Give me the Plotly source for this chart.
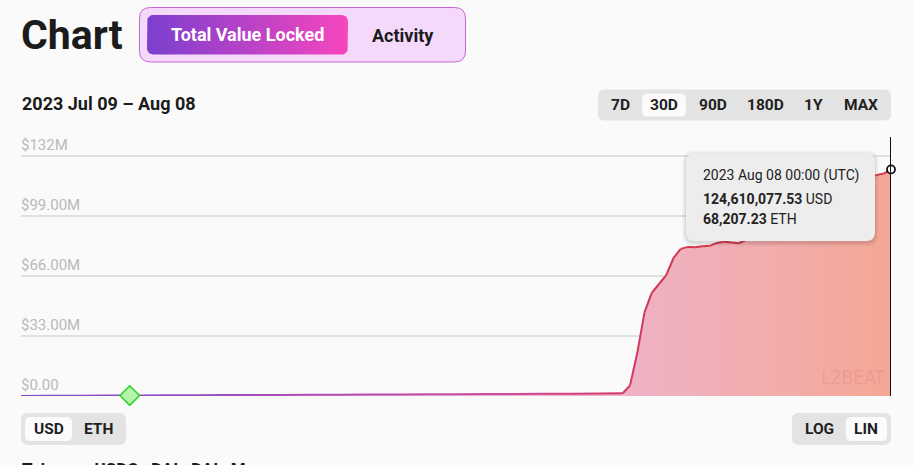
import math
import pandas as pd
import plotly.graph_objects as go

# ---------------- data ----------------
dates = [
    "2023-07-09 00:00", "2023-07-10 00:00", "2023-07-11 00:00", "2023-07-12 00:00", "2023-07-13 00:00", "2023-07-14 00:00",
    "2023-07-15 00:00", "2023-07-16 00:00", "2023-07-17 00:00", "2023-07-18 00:00", "2023-07-19 00:00", "2023-07-20 00:00",
    "2023-07-21 00:00", "2023-07-22 00:00", "2023-07-23 00:00", "2023-07-24 00:00", "2023-07-25 00:00", "2023-07-26 00:00",
    "2023-07-27 00:00", "2023-07-28 00:00", "2023-07-29 00:00", "2023-07-29 18:00",
    "2023-07-30 00:00", "2023-07-30 06:00", "2023-07-30 12:00", "2023-07-30 18:00",
    "2023-07-31 00:00", "2023-07-31 06:00", "2023-07-31 12:00", "2023-07-31 18:00",
    "2023-08-01 00:00", "2023-08-01 06:00", "2023-08-01 12:00", "2023-08-01 18:00",
    "2023-08-02 00:00", "2023-08-02 06:00", "2023-08-02 12:00", "2023-08-02 18:00",
    "2023-08-03 00:00", "2023-08-03 06:00", "2023-08-03 12:00", "2023-08-03 18:00",
    "2023-08-04 00:00", "2023-08-04 06:00", "2023-08-04 12:00", "2023-08-04 18:00",
    "2023-08-05 00:00", "2023-08-05 06:00", "2023-08-05 12:00", "2023-08-05 18:00",
    "2023-08-06 00:00", "2023-08-06 06:00", "2023-08-06 12:00", "2023-08-06 18:00",
    "2023-08-07 00:00", "2023-08-07 06:00", "2023-08-07 12:00", "2023-08-07 18:00",
    "2023-08-08 00:00",
]
tvl_musd = [
    0.05, 0.12, 0.18, 0.22, 0.28, 0.35,
    0.42, 0.50, 0.55, 0.60, 0.66, 0.72,
    0.78, 0.85, 0.90, 0.98, 1.05, 1.12,
    1.20, 1.30, 1.38, 1.50,
    5.8, 23.6, 46.0, 56.7,
    61.6, 66.5, 75.9, 80.9,
    82.0, 81.8, 82.3, 82.6,
    84.2, 84.8, 84.4, 84.0,
    85.8, 86.5, 88.0, 90.2,
    92.8, 94.6, 97.1, 99.0,
    101.8, 103.5, 105.9, 108.2,
    110.6, 112.4, 114.8, 116.9,
    118.7, 120.3, 121.5, 122.3,
    124.61007753,
]
tvl = [v * 1e6 for v in tvl_musd]

milestone_date = ["2023-07-12 18:00"]
milestone_value = [0.25e6]

y_tick_vals = [0, 33e6, 66e6, 99e6, 132e6]
y_tick_text = ["$0.00", "$33.00M", "$66.00M", "$99.00M", "$132M"]

range_labels = ["7D", "30D", "90D", "180D", "1Y", "MAX"]
tooltip_date = "2023 Aug 08 00:00 (UTC)"
tooltip_usd = "124,610,077.53"
tooltip_eth = "68,207.23"

# ---------------- geometry helpers ----------------
W, H = 913, 465
PL, PR, PT, PB = 21, 891, 118, 396   # plot area (pixels); PT extended so the top label is kept
HOVER_TOP = 137
FONT = "Roboto"


def X(px):
    return px / W


def Y(py):
    return 1 - py / H


def rr_path(x0, y0, x1, y1, r):
    return (f"M {X(x0+r)},{Y(y0)} L {X(x1-r)},{Y(y0)} Q {X(x1)},{Y(y0)} {X(x1)},{Y(y0+r)} "
            f"L {X(x1)},{Y(y1-r)} Q {X(x1)},{Y(y1)} {X(x1-r)},{Y(y1)} "
            f"L {X(x0+r)},{Y(y1)} Q {X(x0)},{Y(y1)} {X(x0)},{Y(y1-r)} "
            f"L {X(x0)},{Y(y0+r)} Q {X(x0)},{Y(y0)} {X(x0+r)},{Y(y0)} Z")


def rr_shape(x0, y0, x1, y1, r, fill, line=None, lw=0, layer="below"):
    return dict(type="path", xref="paper", yref="paper", path=rr_path(x0, y0, x1, y1, r),
                fillcolor=fill, line=dict(color=line or fill, width=lw), layer=layer)


def hex2rgb(h):
    h = h.lstrip("#")
    return [int(h[i:i + 2], 16) for i in (0, 2, 4)]


def interp_color(stops, t):
    for i in range(len(stops) - 1):
        t0, c0 = stops[i]
        t1, c1 = stops[i + 1]
        if t <= t1:
            f = 0 if t1 == t0 else (t - t0) / (t1 - t0)
            a, b = hex2rgb(c0), hex2rgb(c1)
            return "rgb(%d,%d,%d)" % tuple(round(a[k] + (b[k] - a[k]) * f) for k in range(3))
    return stops[-1][1]


fig = go.Figure()

# area fill with horizontal gradient
fig.add_trace(go.Scatter(
    x=dates, y=tvl, mode="lines", line=dict(width=0), fill="tozeroy",
    fillgradient=dict(type="horizontal",
                      colorscale=[[0, "#dcb8ee"], [0.68, "#eeb3c9"], [1, "#f5a795"]]),
    hoverinfo="skip", showlegend=False))

# gradient line drawn as consecutive segments
ts = pd.to_datetime(dates, format="%Y-%m-%d %H:%M")
t_start, t_end = pd.Timestamp("2023-07-09"), pd.Timestamp("2023-08-08")
line_stops = [(0, "#7b4ccb"), (0.3, "#a94fb8"), (0.55, "#cf4ca0"), (0.68, "#d33a6e"),
              (0.74, "#d5364f"), (1, "#d8364a")]
for i in range(len(dates) - 1):
    mid = ((ts[i] - t_start) + (ts[i + 1] - t_start)) / 2 / (t_end - t_start)
    fig.add_trace(go.Scatter(
        x=[dates[i], dates[i + 1]], y=[tvl[i], tvl[i + 1]], mode="lines",
        line=dict(color=interp_color(line_stops, mid), width=2),
        hoverinfo="skip", showlegend=False))

# milestone diamond
fig.add_trace(go.Scatter(
    x=milestone_date, y=milestone_value, mode="markers",
    marker=dict(symbol="diamond", size=15, color="#b4f5aa", line=dict(color="#2ed32e", width=1.6)),
    cliponaxis=False, showlegend=False, hoverinfo="skip"))

# hovered point
fig.add_trace(go.Scatter(
    x=[dates[-1]], y=[tvl[-1]], mode="markers",
    marker=dict(symbol="circle", size=8, color="white", line=dict(color="#111", width=1.8)),
    cliponaxis=False, showlegend=False, hoverinfo="skip"))


# gradient toggle button on an overlay pixel axis
def rr_points(x0, y0, x1, y1, r, n=8):
    xs, ys = [], []
    corners = [(x1 - r, y0 + r, -90, 0), (x1 - r, y1 - r, 0, 90), (x0 + r, y1 - r, 90, 180), (x0 + r, y0 + r, 180, 270)]
    for cx, cy, a0, a1 in corners:
        for k in range(n + 1):
            a = math.radians(a0 + (a1 - a0) * k / n)
            xs.append(cx + r * math.cos(a))
            ys.append(cy + r * math.sin(a))
    xs.append(xs[0]); ys.append(ys[0])
    return xs, ys


bx, by = rr_points(147, 15, 348, 54.5, 6)
fig.add_trace(go.Scatter(
    x=bx, y=by, xaxis="x2", yaxis="y2", mode="lines", line=dict(width=0), fill="toself",
    fillgradient=dict(type="horizontal", colorscale=[[0, "#7b3fcf"], [1, "#f646bd"]]),
    hoverinfo="skip", showlegend=False))

shapes = []
shapes.append(rr_shape(139.5, 7.5, 465.5, 62, 11, "#f5d9fb", "#c766cf", 1))
shapes.append(rr_shape(598, 89.5, 891, 120.5, 7, "#e3e3e3"))
shapes.append(rr_shape(642, 93.5, 686, 116.5, 5, "#fbfbfb"))
shapes.append(rr_shape(21, 413, 126, 445, 7, "#e3e3e3"))
shapes.append(rr_shape(25, 417, 72, 441, 5, "#fbfbfb"))
shapes.append(rr_shape(792, 413, 891, 445, 7, "#e3e3e3"))
shapes.append(rr_shape(846, 417, 887, 441, 5, "#fbfbfb"))
shapes.append(dict(type="line", xref="x", yref="paper", x0=dates[-1], x1=dates[-1],
                   y0=Y(PB), y1=Y(HOVER_TOP), line=dict(color="#111", width=2), layer="above"))
for k, a in [(4, 0.03), (2.5, 0.04), (1.2, 0.06)]:
    shapes.append(rr_shape(686 - k, 153 - k + 1.5, 875 + k, 241 + k + 1.5, 9 + k, f"rgba(0,0,0,{a})", layer="above"))
shapes.append(rr_shape(686, 153, 875, 241, 9, "#ededed", layer="above"))

annotations = []


def txt(px, py, s, size, color="#1b1b1b", xanchor="center", bold=False, family=FONT):
    annotations.append(dict(xref="paper", yref="paper", x=X(px), y=Y(py), text=f"<b>{s}</b>" if bold else s,
                            showarrow=False, xanchor=xanchor, yanchor="middle",
                            font=dict(family=family, size=size, color=color)))


txt(19, 35, "Chart", 41, "#1b1b1b", "left", True)
txt(247, 34.5, "Total Value Locked", 18, "#ffffff", "center", True)
txt(403, 35, "Activity", 18, "#1b1b1b", "center", True)
txt(20, 104, "2023 Jul 09 – Aug 08", 18, "#1b1b1b", "left", True)
for lab, cx in zip(range_labels, [620, 664, 712.5, 765, 813.5, 861]):
    txt(cx, 104.5, lab, 15.5, "#1f1f1f", "center", True)
txt(48.5, 429, "USD", 15.5, "#1f1f1f", "center", True)
txt(98.5, 429, "ETH", 15.5, "#1f1f1f", "center", True)
txt(819, 429, "LOG", 15.5, "#1f1f1f", "center", True)
txt(866, 429, "LIN", 15.5, "#1f1f1f", "center", True)
txt(701, 175.5, tooltip_date, 14, "#222", "left")
txt(701, 198.5, f"<b>{tooltip_usd}</b> USD", 14, "#222", "left")
txt(701, 218.5, f"<b>{tooltip_eth}</b> ETH", 14, "#222", "left")
txt(853, 377, "L2BEAT", 19, "rgba(200,80,100,0.16)", "center", False, "DejaVu Sans Condensed")
annotations.append(dict(xref="paper", yref="paper", x=X(20), y=Y(457), text="<b>Tokens:   USDC,  DAI,  DAI,  More</b>",
                        showarrow=False, xanchor="left", yanchor="top",
                        font=dict(family=FONT, size=17, color="#1b1b1b")))

fig.update_layout(
    width=W, height=H, margin=dict(l=0, r=0, t=0, b=0, autoexpand=False),
    paper_bgcolor="#fafafa", plot_bgcolor="rgba(0,0,0,0)",
    showlegend=False, hovermode=False,
    xaxis=dict(domain=[X(PL), X(PR)], range=["2023-07-09", "2023-08-08"], visible=False, fixedrange=True),
    yaxis=dict(domain=[Y(PB), Y(PT)], range=[0, (PB - PT) * 0.55e6],
               tickvals=y_tick_vals, ticktext=y_tick_text, ticklabelposition="inside top",
               ticklabelshift=-1, ticklabelstandoff=-3, ticklen=0,
               tickfont=dict(family=FONT, size=15, color="#b9b9b9"),
               showgrid=True, gridcolor="#e0e0e0", gridwidth=2, zeroline=False, showline=False,
               ticks="", fixedrange=True),
    xaxis2=dict(domain=[0, 1], range=[0, W], visible=False, anchor="y2", fixedrange=True),
    yaxis2=dict(domain=[0, 1], range=[H, 0], visible=False, anchor="x2", fixedrange=True),
    shapes=shapes, annotations=annotations,
)

fig.write_html("out.html", config={"displayModeBar": False},
               post_script="document.body.style.margin='0';document.body.style.background='#fafafa';")
